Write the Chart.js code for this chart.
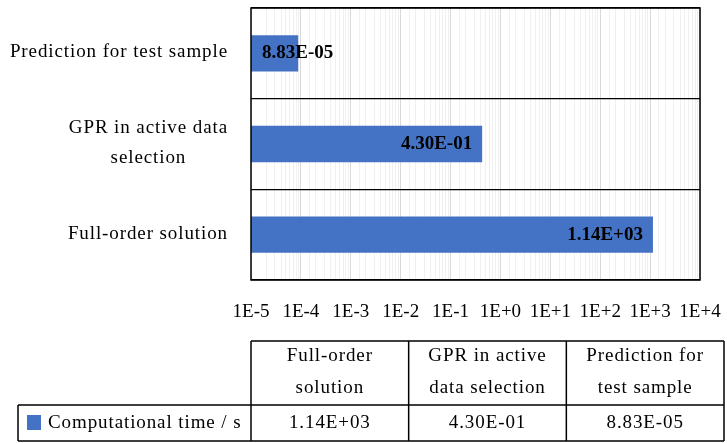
<!DOCTYPE html>
<html>
<head>
<meta charset="utf-8">
<script src="https://cdn.jsdelivr.net/npm/chart.js@4.4.1/dist/chart.umd.min.js"></script>
<style>
  html, body { margin: 0; padding: 0; background: #fff; }
</style>
</head>
<body>
<canvas id="chart" width="727" height="443"></canvas>
<script>
// data, in table order (bottom bar first)
const axisLabels = [["Full-order solution"], ["GPR in active data", "selection"], ["Prediction for test sample"]];
const tableHeaders = [["Full-order", "solution"], ["GPR in active", "data selection"], ["Prediction for", "test sample"]];
const seriesName = "Computational time / s";
const values = [1.14e3, 4.30e-1, 8.83e-5];
const xMin = 1e-5, xMax = 1e4;

const FONT = "'Liberation Serif', 'Times New Roman', serif";
const BLUE = "#4472C4";

function sci(v) {
  const parts = v.toExponential(2).split("e");
  const n = parseInt(parts[1]);
  return parts[0] + "E" + (n < 0 ? "-" : "+") + String(Math.abs(n)).padStart(2, "0");
}
function isDecade(v) {
  const l = Math.log10(v);
  return Math.abs(l - Math.round(l)) < 1e-6;
}

const extras = {
  id: "extras",
  afterDatasetsDraw(chart) {
    const c = chart.ctx, a = chart.chartArea;
    const meta = chart.getDatasetMeta(0);
    c.save();
    // frame
    c.strokeStyle = "#000";
    c.lineWidth = 1.5;
    c.strokeRect(a.left, a.top, a.right - a.left, a.bottom - a.top);
    // bar value labels
    c.font = "bold 19px " + FONT;
    c.fillStyle = "#000";
    c.textBaseline = "middle";
    c.textAlign = "left";
    meta.data.forEach((bar, i) => {
      const txt = sci(values[i]);
      const w = c.measureText(txt).width;
      const x = Math.max(bar.x - 10 - w, bar.base + 11);
      c.fillText(txt, x, bar.y);
    });
    c.restore();
  },
  afterDraw(chart) {
    const c = chart.ctx, a = chart.chartArea;
    const yScale = chart.scales.y;
    c.save();
    c.font = "19px " + FONT;
    c.letterSpacing = "0.9px";
    c.fillStyle = "#000";
    c.textBaseline = "middle";
    // category labels
    axisLabels.forEach((lines, i) => {
      const yc = yScale.getPixelForValue(i) - 1;
      const widths = lines.map(l => c.measureText(l).width);
      const wMax = Math.max(...widths);
      const right = a.left - 23;
      const cx = right - wMax / 2;
      const lh = 30;
      lines.forEach((l, k) => {
        c.textAlign = "center";
        c.fillText(l, cx, yc + (k - (lines.length - 1) / 2) * lh);
      });
    });

    // data table
    const tLeft = a.left, tRight = 724, rowLeft = 18;
    const top = 341, mid = 405, bot = 441;
    const colW = (tRight - tLeft) / tableHeaders.length;
    c.strokeStyle = "#000";
    c.lineWidth = 1.5;
    c.beginPath();
    c.moveTo(tLeft, top); c.lineTo(tRight, top);
    c.moveTo(rowLeft, mid); c.lineTo(tRight, mid);
    c.moveTo(rowLeft, bot); c.lineTo(tRight, bot);
    c.moveTo(rowLeft, mid); c.lineTo(rowLeft, bot);
    for (let k = 0; k <= tableHeaders.length; k++) {
      const x = tLeft + k * colW;
      c.moveTo(x, top); c.lineTo(x, bot);
    }
    c.stroke();
    c.textAlign = "center";
    tableHeaders.forEach((lines, k) => {
      const cx = tLeft + (k + 0.5) * colW;
      lines.forEach((l, j) => c.fillText(l, cx, 356 + j * 32));
      c.fillText(sci(values[k]), cx, 423);
    });
    c.fillStyle = BLUE;
    c.fillRect(27, 415, 14, 15);
    c.fillStyle = "#000";
    c.textAlign = "left";
    c.fillText(seriesName, 48, 423);
    c.restore();
  }
};

new Chart(document.getElementById("chart"), {
  type: "bar",
  data: {
    labels: axisLabels,
    datasets: [{
      label: seriesName,
      data: values,
      backgroundColor: BLUE,
      barPercentage: 0.4,
      categoryPercentage: 1
    }]
  },
  options: {
    indexAxis: "y",
    responsive: false,
    animation: false,
    layout: { padding: { top: 8, right: 27, bottom: 0, left: 0 } },
    plugins: { legend: { display: false }, tooltip: { enabled: false } },
    scales: {
      x: {
        type: "logarithmic",
        min: xMin,
        max: xMax,
        afterFit: s => { s.height = 163; s.paddingLeft = 0; s.paddingRight = 0; },
        border: { display: false },
        grid: {
          drawTicks: false,
          lineWidth: 1,
          color: ctx => (ctx.tick && isDecade(ctx.tick.value)) ? "#d9d9d9" : "#f0f0f0"
        },
        ticks: {
          autoSkip: false,
          maxRotation: 0,
          padding: 21,
          color: "#000",
          font: { family: FONT, size: 19 },
          callback: v => {
            if (!isDecade(v)) return "";
            const e = Math.round(Math.log10(v));
            return "1E" + (e < 0 ? "-" : "+") + Math.abs(e);
          }
        }
      },
      y: {
        reverse: true,
        afterFit: s => { s.width = 251; },
        border: { display: false },
        grid: { offset: true, drawTicks: false, color: "#000", lineWidth: 1.2 },
        ticks: { display: false }
      }
    }
  },
  plugins: [extras]
});
</script>
</body>
</html>
